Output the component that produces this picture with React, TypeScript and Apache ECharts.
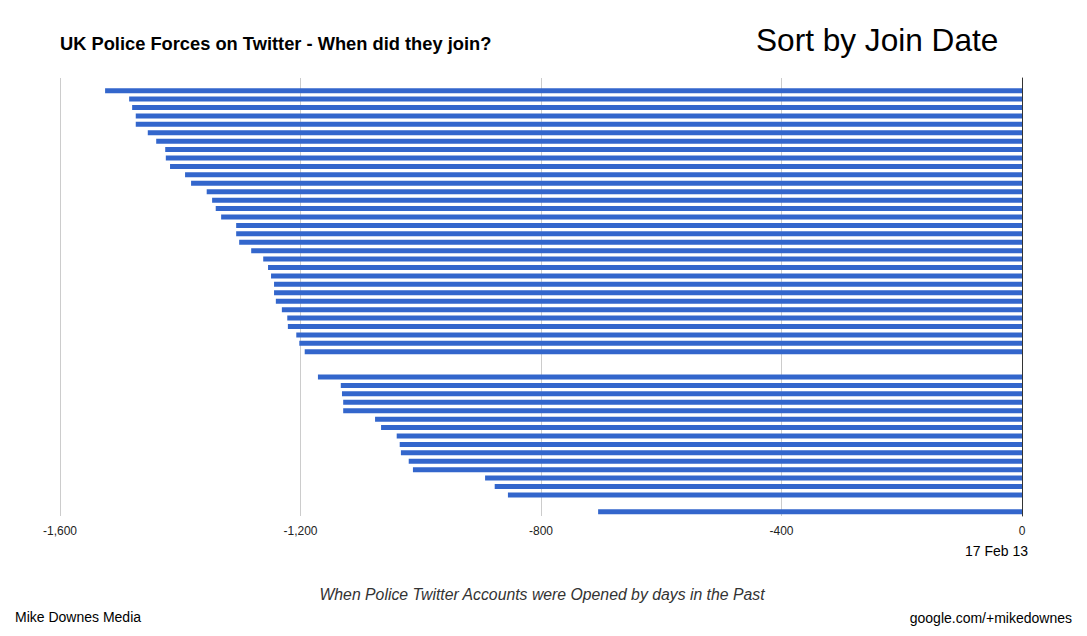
import React, { useEffect, useRef } from "react";
import * as echarts from "echarts";

// Days since each force joined Twitter (negative = days in the past), sorted by join date
const daysJoined: (number | null)[] = [
  null, -1525, -1485, -1480, -1474, -1474, -1454, -1440, -1425, -1424,
  -1417, -1392, -1382, -1356, -1347, -1341, -1332, -1307, -1307, -1302,
  -1282, -1262, -1254, -1249, -1244, -1244, -1241, -1231, -1222, -1221,
  -1207, -1202, -1193, null, null, -1171, -1133, -1131, -1129, -1129,
  -1076, -1066, -1040, -1035, -1033, -1020, -1013, -893, -877, -855,
  null, -705,
];
const categories: string[] = daysJoined.map((_, i) => `Force ${i + 1}`);
const xTicks: number[] = [-1600, -1200, -800, -400, 0];

const FONT = "'Liberation Sans', Arial, sans-serif";

export default function App() {
  const ref = useRef<HTMLDivElement>(null);
  useEffect(() => {
    if (!ref.current) return;
    const chart = echarts.init(ref.current, undefined, { renderer: "svg" });
    chart.setOption({
      animation: false,
      backgroundColor: "#ffffff",
      textStyle: { fontFamily: FONT },
      grid: { left: 60, right: 65, top: 78, bottom: 120, containLabel: false },
      xAxis: {
        type: "value",
        min: xTicks[0],
        max: xTicks[xTicks.length - 1],
        interval: 400,
        axisLine: { show: false },
        axisTick: { show: false },
        splitLine: { show: true, lineStyle: { color: "#cccccc", width: 1 } },
        axisLabel: {
          color: "#222222",
          fontSize: 12,
          fontFamily: FONT,
          margin: 9,
          formatter: (v: number) => v.toLocaleString("en-US"),
        },
      },
      yAxis: {
        type: "category",
        data: categories,
        inverse: true,
        position: "right",
        axisLine: { show: true, onZero: false, lineStyle: { color: "#333333", width: 1 } },
        axisTick: { show: false },
        axisLabel: { show: false },
        splitLine: { show: false },
      },
      series: [
        {
          type: "bar",
          data: daysJoined,
          barWidth: 5,
          itemStyle: { color: "#3366cc" },
          silent: true,
        },
      ],
      graphic: [
        {
          type: "text",
          left: 60,
          top: 34,
          style: {
            text: "UK Police Forces on Twitter - When did they join?",
            font: `bold 18.3px ${FONT}`,
            fill: "#000000",
          },
        },
        {
          type: "text",
          left: 756,
          top: 24,
          style: {
            text: "Sort by Join Date",
            font: `31.6px ${FONT}`,
            fill: "#000000",
          },
        },
        {
          type: "text",
          x: 1028,
          y: 551,
          style: {
            text: "17 Feb 13",
            font: `14px ${FONT}`,
            fill: "#000000",
            align: "right",
            verticalAlign: "middle",
          },
        },
        {
          type: "text",
          x: 542,
          y: 594,
          style: {
            text: "When Police Twitter Accounts were Opened by days in the Past",
            font: `italic 15.8px ${FONT}`,
            fill: "#333333",
            align: "center",
            verticalAlign: "middle",
          },
        },
        {
          type: "text",
          x: 15,
          y: 617,
          style: {
            text: "Mike Downes Media",
            font: `14px ${FONT}`,
            fill: "#000000",
            align: "left",
            verticalAlign: "middle",
          },
        },
        {
          type: "text",
          x: 1072,
          y: 618,
          style: {
            text: "google.com/+mikedownes",
            font: `14px ${FONT}`,
            fill: "#000000",
            align: "right",
            verticalAlign: "middle",
          },
        },
      ],
    });
    return () => chart.dispose();
  }, []);
  return (
    <div
      ref={ref}
      style={{ position: "fixed", left: 0, top: 0, width: 1087, height: 636 }}
    />
  );
}
